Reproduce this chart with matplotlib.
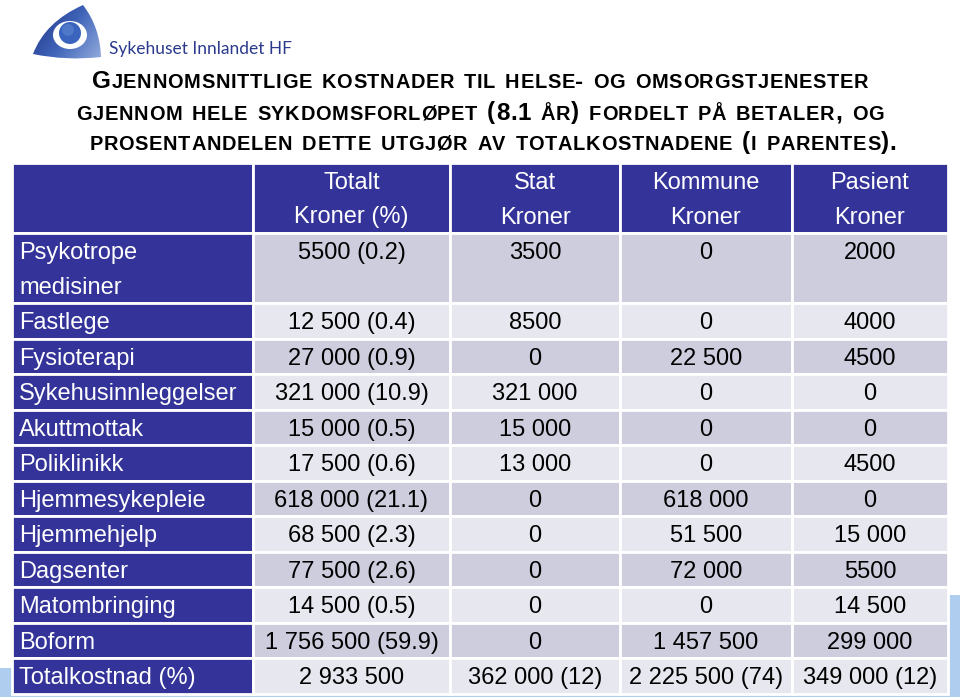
import matplotlib
matplotlib.use("Agg")
import numpy as np
import matplotlib.pyplot as plt
from matplotlib.patches import Rectangle, Ellipse, Circle, PathPatch
from matplotlib.path import Path
from matplotlib.colors import LinearSegmentedColormap
from matplotlib.offsetbox import TextArea, HPacker, AnnotationBbox

# ---------------- data ----------------
title_lines = [
    "Gjennomsnittlige kostnader til helse- og omsorgstjenester",
    "gjennom hele sykdomsforløpet (8.1 år) fordelt på betaler, og",
    "prosentandelen dette utgjør av totalkostnadene (i parentes).",
]
col_headers = [["Totalt", "Kroner (%)"], ["Stat", "Kroner"],
               ["Kommune", "Kroner"], ["Pasient", "Kroner"]]
categories = [["Psykotrope", "medisiner"], ["Fastlege"], ["Fysioterapi"],
              ["Sykehusinnleggelser"], ["Akuttmottak"], ["Poliklinikk"],
              ["Hjemmesykepleie"], ["Hjemmehjelp"], ["Dagsenter"],
              ["Matombringing"], ["Boform"]]
totalt = [5500, 12500, 27000, 321000, 15000, 17500, 618000, 68500, 77500, 14500, 1756500]
totalt_pct = [0.2, 0.4, 0.9, 10.9, 0.5, 0.6, 21.1, 2.3, 2.6, 0.5, 59.9]
stat = [3500, 8500, 0, 321000, 15000, 13000, 0, 0, 0, 0, 0]
kommune = [0, 0, 22500, 0, 0, 0, 618000, 51500, 72000, 0, 1457500]
pasient = [2000, 4000, 4500, 0, 0, 4500, 0, 15000, 5500, 14500, 299000]
total_label = "Totalkostnad (%)"
sum_totalt = 2933500
sum_stat, sum_stat_pct = 362000, 12
sum_kommune, sum_kommune_pct = 2225500, 74
sum_pasient, sum_pasient_pct = 349000, 12
logo_text = "Sykehuset Innlandet HF"


def fmt(v):
    if v >= 10000:
        return f"{v:,}".replace(",", " ")
    return str(v)


# ---------------- styling ----------------
FONT = "Liberation Sans"
HEAD = "#333399"
DARK = "#CDCDDE"
LIGHT = "#E7E7EF"
LBLUE = "#AFCDEE"

fig = plt.figure(figsize=(9.6, 6.97), dpi=100)
ax = fig.add_axes([0, 0, 1, 1])
ax.set_xlim(0, 960)
ax.set_ylim(697, 0)
ax.axis("off")

# decorative background
ax.add_patch(Rectangle((0, 668), 960, 29, color=LBLUE, zorder=0, lw=0))
ax.add_patch(Rectangle((940, 595), 20, 102, color=LBLUE, zorder=0, lw=0))

# logo
verts = [(33, 54), (45, 22), (83, 5), (100, 27), (101, 57), (66, 61), (33, 54), (33, 54)]
codes = [Path.MOVETO, Path.CURVE3, Path.CURVE3, Path.CURVE3, Path.CURVE3,
         Path.CURVE3, Path.CURVE3, Path.CLOSEPOLY]
swoosh = PathPatch(Path(verts, codes), facecolor="none", edgecolor="none", zorder=2)
ax.add_patch(swoosh)
gx, gy = np.meshgrid(np.linspace(0, 1, 80), np.linspace(0, 1, 60))
grad = 0.65 * gx + 0.35 * (1 - gy)
cmap = LinearSegmentedColormap.from_list("logo", ["#1C2F80", "#3F63B8", "#9DB4E2"])
im = ax.imshow(grad, extent=(30, 106, 62, 3), origin="lower", cmap=cmap,
               zorder=2, aspect="auto", interpolation="bilinear")
im.set_clip_path(swoosh)
ax.add_patch(Ellipse((70, 35), 34, 28, facecolor="white", edgecolor="none", zorder=3))
ax.add_patch(Circle((70, 33), 11, facecolor="#3A64BE", edgecolor="none", zorder=4))
ax.add_patch(Circle((68, 30), 6, facecolor="#5F86D2", edgecolor="none", zorder=4, alpha=0.6))
ax.set_xlim(0, 960)
ax.set_ylim(697, 0)
ax.text(109, 54, logo_text, fontsize=12.5, family=["Lato", "Liberation Sans"],
        color="#2B3A8C", ha="left", va="baseline")

# title in (tracked) small caps
BIG, SMALL = 17.5, 14.4
TRACK, WORDGAP = 0.5, 7


def word_box(word):
    chars = []
    for ch in word:
        if ch.islower():
            size, c = SMALL, ch.upper()
        else:
            size, c = BIG, ch
        chars.append(TextArea(c, textprops=dict(fontsize=size, fontweight="bold",
                                                family=FONT, color="black")))
    return HPacker(children=chars, align="baseline", pad=0, sep=TRACK)


title_y = [82, 113, 143]
title_x = [480, 480, 493]
for line, x, y in zip(title_lines, title_x, title_y):
    words = [word_box(w) for w in line.split(" ")]
    pack = HPacker(children=words, align="baseline", pad=0, sep=WORDGAP)
    ab = AnnotationBbox(pack, (x, y), xycoords="data", frameon=False,
                        box_alignment=(0.5, 0.5), pad=0)
    ax.add_artist(ab)

# table geometry
col_edges = [12, 253, 450, 620, 792, 948]
row_heights = [70, 70] + [35.55] * 11
row_tops = [163]
for h in row_heights:
    row_tops.append(row_tops[-1] + h)

FS = 17
LINE = 34.5
BASE = 26


def cell(r, c, color):
    x0, x1 = col_edges[c], col_edges[c + 1]
    y0, y1 = row_tops[r], row_tops[r + 1]
    ax.add_patch(Rectangle((x0, y0), x1 - x0, y1 - y0, facecolor=color,
                           edgecolor="white", lw=2, zorder=2))


def put(r, c, lines, color, align="center"):
    x0, x1 = col_edges[c], col_edges[c + 1]
    for i, t in enumerate(lines):
        y = row_tops[r] + BASE + i * LINE
        if align == "left":
            ax.text(x0 + 7, y, t, ha="left", va="baseline", fontsize=FS,
                    family=FONT, color=color, zorder=5)
        else:
            ax.text((x0 + x1) / 2, y, t, ha="center", va="baseline",
                    fontsize=FS, family=FONT, color=color, zorder=5)


# header
for c in range(5):
    cell(0, c, HEAD)
for c, hdr in enumerate(col_headers):
    put(0, c + 1, hdr, "white")

# body rows
body = []
for i in range(len(categories)):
    body.append((categories[i],
                 [f"{fmt(totalt[i])} ({totalt_pct[i]})", fmt(stat[i]),
                  fmt(kommune[i]), fmt(pasient[i])]))
body.append(([total_label],
              [fmt(sum_totalt), f"{fmt(sum_stat)} ({sum_stat_pct})",
               f"{fmt(sum_kommune)} ({sum_kommune_pct})",
               f"{fmt(sum_pasient)} ({sum_pasient_pct})"]))

for i, (label, vals) in enumerate(body):
    r = i + 1
    shade = DARK if i % 2 == 0 else LIGHT
    cell(r, 0, HEAD)
    put(r, 0, label, "white", align="left")
    for c, v in enumerate(vals):
        cell(r, c + 1, shade)
        put(r, c + 1, [v], "black")

fig.savefig("out.png", dpi=100, facecolor="white")
